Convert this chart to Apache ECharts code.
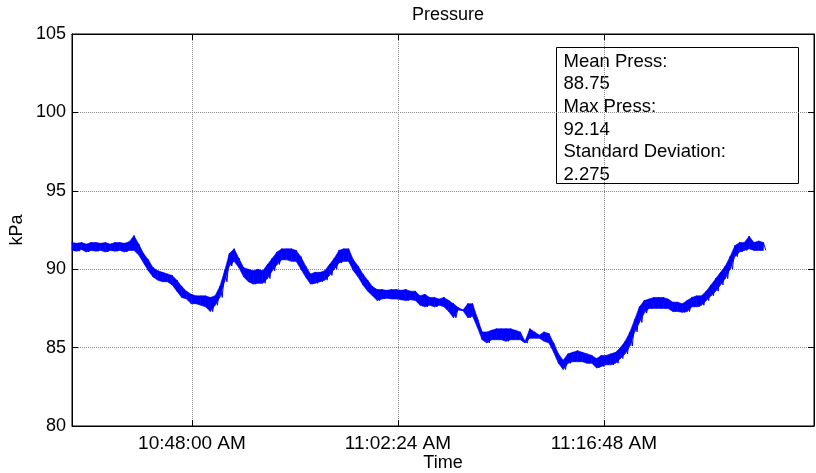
<!DOCTYPE html>
<html>
<head>
<meta charset="utf-8">
<script src="https://cdn.jsdelivr.net/npm/echarts@6/dist/echarts.min.js"></script>
<style>
  html, body { margin: 0; padding: 0; background: #fff; }
  #chart { width: 816px; height: 473px; }
</style>
</head>
<body>
<div id="chart"></div>
<script>
// Pressure log: each 20 s sample stores the top and bottom of the noisy trace.
const chartTitle = 'Pressure';
const xAxisName = 'Time';
const yAxisName = 'kPa';
const yMin = 80;
const yMax = 105;
const yStep = 5;
const timeTickLabels = ['10:48:00 AM', '11:02:24 AM', '11:16:48 AM'];
const timeStart = '10:39:37 AM';
const timeEnd = '11:31:29 AM';
const sampleStepSeconds = 20;

const pressureHigh = [
  91.70, 91.65, 91.70, 91.60, 91.70, 91.70, 91.65, 91.70, 91.60, 91.70,
  91.70, 91.65, 91.75, 92.14, 91.60, 91.00, 90.60, 90.10, 89.90, 89.80,
  89.70, 89.60, 89.30, 88.90, 88.60, 88.40, 88.30, 88.30, 88.30, 88.20,
  88.30, 88.90, 89.90, 91.00, 91.30, 90.70, 90.10, 90.00, 89.90, 90.00,
  89.90, 90.30, 90.70, 91.10, 91.30, 91.30, 91.30, 91.20, 90.80, 90.20,
  89.70, 89.80, 89.80, 89.90, 90.30, 90.70, 91.20, 91.30, 91.30, 90.60,
  90.20, 89.70, 89.30, 88.90, 88.70, 88.70, 88.65, 88.70, 88.70, 88.65,
  88.70, 88.60, 88.60, 88.30, 88.40, 88.20, 88.20, 88.10, 88.20, 88.00,
  87.80, 87.55, 87.40, 87.80, 87.80, 86.90, 86.00, 86.00, 86.10, 86.20,
  86.20, 86.20, 86.20, 86.10, 86.00, 85.40, 86.20, 86.00, 85.80, 86.00,
  85.90, 85.30, 84.60, 84.20, 84.60, 84.70, 84.80, 84.70, 84.60, 84.50,
  84.30, 84.50, 84.50, 84.60, 84.70, 85.00, 85.40, 86.00, 86.80, 87.60,
  88.00, 88.10, 88.20, 88.20, 88.20, 88.10, 87.90, 87.90, 87.80, 88.00,
  88.20, 88.30, 88.30, 88.60, 89.00, 89.40, 89.80, 90.20, 90.80, 91.50,
  91.70, 91.70, 92.10, 91.70, 91.80, 91.70
];

const pressureLow = [
  91.20, 91.15, 91.25, 91.10, 91.20, 91.15, 91.20, 91.10, 91.20, 91.15,
  91.20, 91.10, 91.20, 91.20, 90.90, 90.40, 89.90, 89.50, 89.30, 89.20,
  89.20, 89.00, 88.60, 88.20, 88.10, 87.80, 87.80, 87.70, 87.60, 87.30,
  87.70, 88.20, 89.20, 90.20, 90.50, 90.10, 89.50, 89.20, 89.05, 89.10,
  89.10, 89.40, 89.90, 90.30, 90.60, 90.60, 90.50, 90.50, 90.00, 89.50,
  89.05, 89.10, 89.20, 89.30, 89.60, 90.00, 90.40, 90.50, 90.50, 89.90,
  89.50, 89.00, 88.60, 88.30, 88.00, 88.10, 88.15, 88.10, 88.10, 88.05,
  88.00, 88.05, 88.00, 87.70, 87.60, 87.70, 87.60, 87.70, 87.60, 87.30,
  86.90, 87.40, 87.35, 86.90, 87.00, 86.30, 85.50, 85.30, 85.50, 85.50,
  85.50, 85.40, 85.50, 85.50, 85.50, 85.30, 85.60, 85.60, 85.60, 85.40,
  85.30, 84.70, 84.00, 83.60, 84.00, 84.10, 84.10, 84.10, 84.00, 84.00,
  83.70, 83.80, 83.90, 83.90, 84.00, 84.30, 84.60, 85.10, 86.00, 86.60,
  87.20, 87.50, 87.50, 87.50, 87.50, 87.50, 87.30, 87.30, 87.25, 87.30,
  87.60, 87.60, 87.70, 88.00, 88.30, 88.60, 89.00, 89.40, 90.00, 90.80,
  91.10, 91.20, 91.30, 91.20, 91.20, 91.20
];

const statLines = ['Mean Press:', '88.75', 'Max Press:', '92.14', 'Standard Deviation:', '2.275'];

// "h:mm:ss AM" -> seconds since midnight
function toSeconds(label) {
  const [clock, ampm] = label.split(' ');
  let [h, m, s] = clock.split(':').map(Number);
  if (ampm === 'PM' && h !== 12) h += 12;
  if (ampm === 'AM' && h === 12) h = 0;
  return h * 3600 + m * 60 + s;
}

const t0 = toSeconds(timeStart);
const tickSeconds = timeTickLabels.map(toSeconds);
const sampleTimes = pressureHigh.map((_, i) => t0 + i * sampleStepSeconds);

// Zig-zag between the top and bottom of each sample, giving the spiky noise.
const trace = [];
sampleTimes.forEach((t, i) => {
  trace.push([t, pressureHigh[i]]);
  trace.push([t + sampleStepSeconds / 2, pressureLow[i]]);
});

// Band pieces between consecutive samples: [t, low, high, tNext, lowNext, highNext]
const bandPieces = [];
for (let i = 0; i + 1 < sampleTimes.length; i++) {
  bandPieces.push([
    sampleTimes[i], pressureLow[i], pressureHigh[i],
    sampleTimes[i + 1], pressureLow[i + 1], pressureHigh[i + 1]
  ]);
}

const FONT = '"Liberation Sans", Arial, Helvetica, sans-serif';
const TRACE_BLUE = '#0000ff';
const gridLine = { show: true, lineStyle: { color: '#8a8a8a', width: 1, type: [1, 1] } };

function renderBand(params, api) {
  const a0 = api.coord([api.value(0), api.value(1)]);
  const a1 = api.coord([api.value(0), api.value(2)]);
  const b0 = api.coord([api.value(3), api.value(4)]);
  const b1 = api.coord([api.value(3), api.value(5)]);
  return {
    type: 'polygon',
    shape: { points: [a1, b1, b0, a0] },
    style: { fill: TRACE_BLUE, stroke: TRACE_BLUE, lineWidth: 0.6 }
  };
}

const chart = echarts.init(document.getElementById('chart'), null, { renderer: 'canvas' });

chart.setOption({
  animation: false,
  backgroundColor: '#ffffff',
  textStyle: { fontFamily: FONT },
  title: {
    text: chartTitle,
    left: 443,
    textAlign: 'center',
    top: 1,
    textStyle: { fontFamily: FONT, fontSize: 18, fontWeight: 'normal', color: '#000' }
  },
  grid: {
    left: 72, right: 2, top: 34, bottom: 47,
    outerBoundsMode: 'none',
    containLabel: false,
    show: true, borderColor: '#000', borderWidth: 1, backgroundColor: '#fff'
  },
  xAxis: [
    {
      type: 'value',
      min: t0,
      max: toSeconds(timeEnd),
      position: 'bottom',
      name: xAxisName,
      nameLocation: 'middle',
      nameGap: 28,
      nameMoveOverlap: false,
      nameTextStyle: { fontFamily: FONT, fontSize: 18, color: '#000' },
      axisLine: { show: true, lineStyle: { color: '#000', width: 1 } },
      axisTick: { show: true, inside: true, length: 6, customValues: tickSeconds, lineStyle: { color: '#000' } },
      axisLabel: {
        show: true,
        customValues: tickSeconds,
        margin: 8,
        fontFamily: FONT, fontSize: 19, color: '#000',
        formatter: (v) => timeTickLabels[tickSeconds.indexOf(v)] || ''
      },
      splitLine: gridLine
    },
    {
      type: 'value',
      min: t0,
      max: toSeconds(timeEnd),
      position: 'top',
      axisLine: { show: true, lineStyle: { color: '#000', width: 1 } },
      axisTick: { show: true, inside: true, length: 6, customValues: tickSeconds, lineStyle: { color: '#000' } },
      axisLabel: { show: false },
      splitLine: { show: false }
    }
  ],
  yAxis: [
    {
      type: 'value',
      min: yMin, max: yMax, interval: yStep,
      position: 'left',
      name: yAxisName,
      nameLocation: 'middle',
      nameGap: 46,
      nameRotate: 90,
      nameMoveOverlap: false,
      nameTextStyle: { fontFamily: FONT, fontSize: 18, color: '#000' },
      axisLine: { show: true, lineStyle: { color: '#000', width: 1 } },
      axisTick: { show: true, inside: true, length: 6, lineStyle: { color: '#000' } },
      axisLabel: { margin: 6, fontFamily: FONT, fontSize: 18, color: '#000' },
      splitLine: gridLine
    },
    {
      type: 'value',
      min: yMin, max: yMax, interval: yStep,
      position: 'right',
      axisLine: { show: true, lineStyle: { color: '#000', width: 1 } },
      axisTick: { show: true, inside: true, length: 6, lineStyle: { color: '#000' } },
      axisLabel: { show: false },
      splitLine: { show: false }
    }
  ],
  series: [
    {
      type: 'custom',
      data: bandPieces,
      encode: { x: [0, 3], y: [1, 2, 4, 5] },
      renderItem: renderBand,
      silent: true,
      z: 2
    },
    {
      type: 'line',
      data: trace,
      symbol: 'none',
      sampling: null,
      lineStyle: { color: TRACE_BLUE, width: 1 },
      itemStyle: { color: TRACE_BLUE },
      z: 3
    }
  ],
  graphic: [
    {
      type: 'group',
      left: 556,
      top: 47,
      z: 100,
      children: [
        {
          type: 'rect',
          shape: { x: 0, y: 0, width: 242, height: 136 },
          style: { fill: '#fff', stroke: '#000', lineWidth: 1 }
        },
        {
          type: 'text',
          left: 7,
          top: 3,
          style: {
            text: statLines.join('\n'),
            font: '18.5px ' + FONT,
            lineHeight: 22.6,
            fill: '#000'
          }
        }
      ]
    }
  ]
});
</script>
</body>
</html>
